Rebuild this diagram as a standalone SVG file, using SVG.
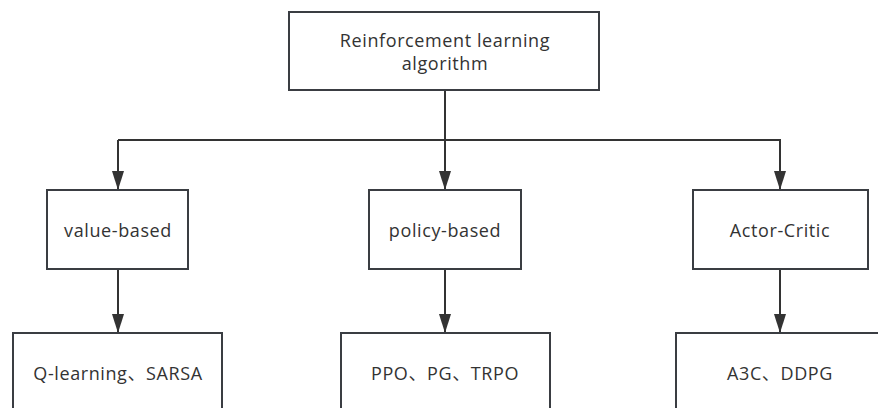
<svg xmlns="http://www.w3.org/2000/svg" width="878" height="408" viewBox="0 0 878 408">
  <style>
    .box { fill: #ffffff; stroke: #3a3d42; stroke-width: 2; }
    .lbl { font-family: "Open Sans", "Noto Sans", "Noto Sans CJK SC", sans-serif; font-size: 18px; letter-spacing: 0.6px; fill: #333333; text-anchor: middle; dominant-baseline: central; }
    .wire { fill: none; stroke: #333333; stroke-width: 2; }
  </style>
  <defs>
    <marker id="arrow" markerUnits="userSpaceOnUse" markerWidth="19" markerHeight="12" refX="19" refY="6" orient="auto" viewBox="0 0 19 12">
      <path d="M0,0 L19,6 L0,12 Z" fill="#333333"/>
    </marker>
  </defs>
  <rect width="878" height="408" fill="#ffffff"/>

  <g id="connectors">
    <line class="wire" x1="445" y1="90" x2="445" y2="190" marker-end="url(#arrow)"/>
    <path class="wire" d="M118,140 H780 V190" marker-end="url(#arrow)"/>
    <path class="wire" d="M118,140 V190" marker-end="url(#arrow)"/>
    <line class="wire" x1="118" y1="269" x2="118" y2="333" marker-end="url(#arrow)"/>
    <line class="wire" x1="445" y1="269" x2="445" y2="333" marker-end="url(#arrow)"/>
    <line class="wire" x1="780" y1="269" x2="780" y2="333" marker-end="url(#arrow)"/>
  </g>

  <g id="root">
    <rect class="box" x="289" y="12" width="310" height="78"/>
    <text class="lbl" x="445" y="40">Reinforcement learning</text>
    <text class="lbl" x="445" y="63">algorithm</text>
  </g>

  <g id="value-based">
    <rect class="box" x="47" y="190" width="141" height="79"/>
    <text class="lbl" x="118" y="230">value-based</text>
  </g>
  <g id="policy-based">
    <rect class="box" x="369" y="190" width="152" height="79"/>
    <text class="lbl" x="445" y="230">policy-based</text>
  </g>
  <g id="actor-critic">
    <rect class="box" x="693" y="190" width="175" height="79"/>
    <text class="lbl" x="780" y="230">Actor-Critic</text>
  </g>

  <g id="value-algos">
    <rect class="box" x="13" y="333" width="209" height="90"/>
    <text class="lbl" x="118" y="373">Q-learning、SARSA</text>
  </g>
  <g id="policy-algos">
    <rect class="box" x="341" y="333" width="209" height="90"/>
    <text class="lbl" x="445" y="373">PPO、PG、TRPO</text>
  </g>
  <g id="ac-algos">
    <rect class="box" x="676" y="333" width="209" height="90"/>
    <text class="lbl" x="780" y="373">A3C、DDPG</text>
  </g>
</svg>
